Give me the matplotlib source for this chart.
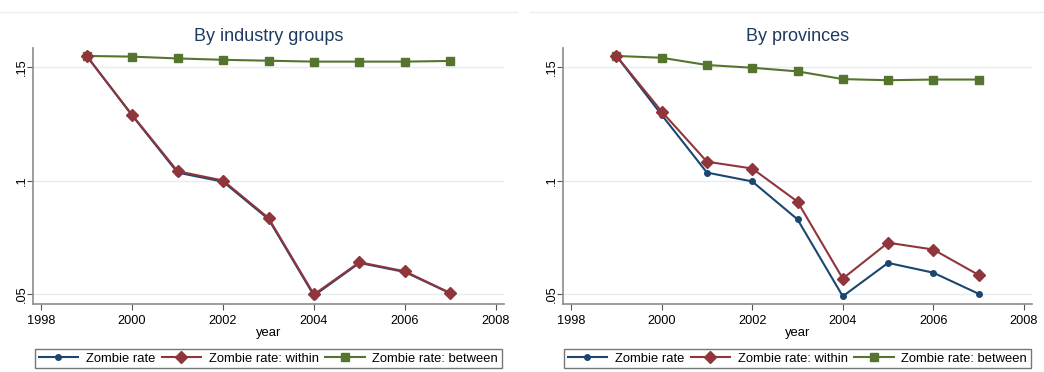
import numpy as np
import matplotlib
matplotlib.use('Agg')
import matplotlib.pyplot as plt
from matplotlib.lines import Line2D

plt.rcParams['font.family'] = ['Liberation Sans', 'DejaVu Sans']

years = [1999, 2000, 2001, 2002, 2003, 2004, 2005, 2006, 2007]

# by industry groups
ind_rate = [0.1549, 0.1287, 0.1035, 0.0995, 0.0830, 0.0493, 0.0637, 0.0597, 0.0503]
ind_within = [0.1549, 0.1289, 0.1041, 0.1000, 0.0835, 0.0498, 0.0640, 0.0600, 0.0504]
ind_between = [0.1549, 0.1546, 0.1538, 0.1532, 0.1528, 0.1524, 0.1524, 0.1524, 0.1527]

# by provinces
prov_rate = [0.1549, 0.1289, 0.1035, 0.0996, 0.0829, 0.0490, 0.0637, 0.0594, 0.0501]
prov_within = [0.1549, 0.1304, 0.1083, 0.1053, 0.0907, 0.0568, 0.0726, 0.0696, 0.0584]
prov_between = [0.1549, 0.1541, 0.1509, 0.1497, 0.1481, 0.1447, 0.1442, 0.1445, 0.1445]

titles = ['By industry groups', 'By provinces']
labels = ['Zombie rate', 'Zombie rate: within', 'Zombie rate: between']
xticks = [1998, 2000, 2002, 2004, 2006, 2008]
yticks = [0.05, 0.1, 0.15]
yticklabels = ['.05', '.1', '.15']

c_blue = '#1a476f'
c_red = '#90353b'
c_green = '#55752f'
c_title = '#1e3a5f'

W, H = 1044, 372
fig = plt.figure(figsize=(W / 100, H / 100), dpi=100)

# axes boxes in pixels: left, right, top, bottom
boxes = [(33, 504, 48, 304), (563, 1032, 48, 304)]
panels = [(ind_rate, ind_within, ind_between), (prov_rate, prov_within, prov_between)]

for (l, r, t, b), title, (s1, s2, s3) in zip(boxes, titles, panels):
    ax = fig.add_axes([l / W, 1 - b / H, (r - l) / W, (b - t) / H])
    ax.plot(years, s1, color=c_blue, lw=1.5, marker='o', ms=4, label=labels[0], zorder=3)
    ax.plot(years, s2, color=c_red, lw=1.5, marker='D', ms=6, label=labels[1], zorder=4)
    ax.plot(years, s3, color=c_green, lw=1.5, marker='s', ms=5.5, label=labels[2], zorder=3)
    ax.set_xlim(1997.82, 2008.18)
    ax.set_ylim(0.0456, 0.1584)
    ax.set_xticks(xticks)
    ax.set_yticks(yticks)
    ax.set_yticklabels(yticklabels, rotation=90, va='center')
    ax.tick_params(labelsize=9.2, color='#555555', length=4.5, width=0.8)
    ax.tick_params(axis='y', pad=-0.5)
    ax.grid(axis='y', color='#e4eef2', lw=1)
    ax.set_axisbelow(True)
    for s in ['top', 'right']:
        ax.spines[s].set_visible(False)
    for s in ['left', 'bottom']:
        ax.spines[s].set_color('#8c8c8c')
        ax.spines[s].set_linewidth(1.2)
    ax.set_title(title, fontsize=13, color=c_title, pad=5)
    ax.set_xlabel('year', fontsize=9.4, labelpad=0)
    ax.legend(loc='center', bbox_to_anchor=((l + r) / 2 / W, 1 - 358.5 / H),
              bbox_transform=fig.transFigure, ncol=3, fontsize=9.4,
              frameon=True, fancybox=False, edgecolor='#555555',
              handlelength=3.0, columnspacing=0.5, handletextpad=0.6,
              borderpad=0.3, borderaxespad=0)
    # faint border of each graph region
    fig.add_artist(Line2D([(l - 33) / W, (r + 13) / W], [1 - 12 / H, 1 - 12 / H],
                          transform=fig.transFigure, color='#eeeeee', lw=1))

fig.savefig('out.png', dpi=100, facecolor='white')
